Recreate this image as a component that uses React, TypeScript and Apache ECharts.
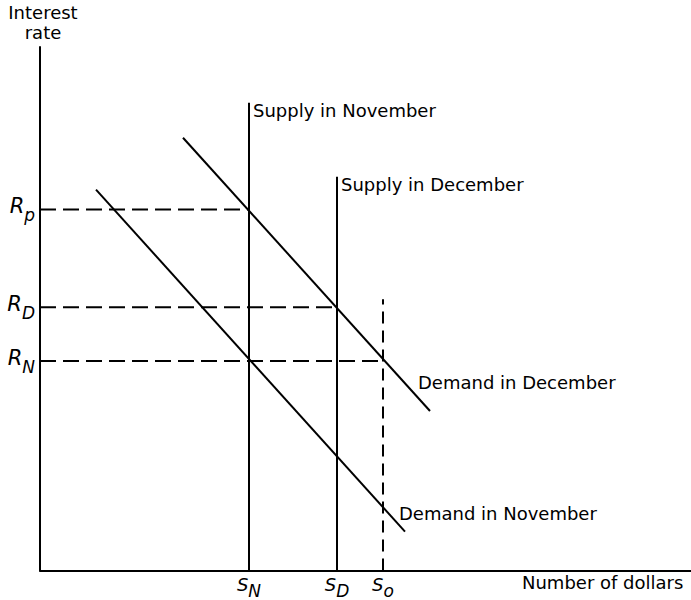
import React, { useEffect, useRef } from "react";
import * as echarts from "echarts";

// Quantities on the horizontal axis (S_N, S_D, S_o)
const supplyQty = [209, 297, 343];
const supplySubs = ["N", "D", "o"];
// Interest rates on the vertical axis (R_p, R_D, R_N)
const rates = [362, 264, 210];
const rateSubs = ["p", "D", "N"];
// Top of each supply line (November, December, dashed S_o)
const supplyTop = [469, 395, 272];
// Demand schedules: [quantity, rate] end points
const demandDec = [
  [143, 434],
  [390, 160],
];
const demandNov = [
  [56, 382],
  [365, 39],
];
const seriesNames = [
  "Supply in November",
  "Supply in December",
  "Demand in December",
  "Demand in November",
];
const axisTitles = ["Number of dollars", "Interest\nrate"];

const FONT = "DejaVu Sans";

export default function App() {
  const ref = useRef<HTMLDivElement>(null);
  useEffect(() => {
    document.body.style.margin = "0";
    const chart = echarts.init(ref.current!, null, { renderer: "svg" });
    const black = "#000";
    const lineW = 2;
    const dashStyle = { color: black, width: 2, type: [16, 7] as any };
    const vdash = { color: black, width: 2, type: [12, 7] as any };
    const labelStyle = {
      color: black,
      fontFamily: FONT,
      fontSize: 18,
    };
    const richX = {
      s: {
        fontFamily: FONT,
        fontStyle: "italic",
        fontSize: 18,
        lineHeight: 16,
        color: black,
        padding: [0, 0, 7, 0],
      },
      sub: {
        fontFamily: FONT,
        fontStyle: "italic",
        fontSize: 17,
        lineHeight: 16,
        color: black,
        padding: [7, 0, 0, 0],
      },
    };
    const richY = {
      s: {
        fontFamily: FONT,
        fontStyle: "italic",
        fontSize: 21,
        lineHeight: 21,
        color: black,
        padding: [0, 0, 7, 0],
      },
      sub: {
        fontFamily: FONT,
        fontStyle: "italic",
        fontSize: 17,
        lineHeight: 17,
        color: black,
        padding: [11, 0, 0, 0],
      },
    };
    const option: any = {
      animation: false,
      grid: { left: 40, top: 47, right: 0, bottom: 28 },
      xAxis: {
        type: "value",
        min: 0,
        max: 651,
        splitLine: { show: false },
        axisTick: { show: false },
        axisLine: { lineStyle: { color: black, width: 2 } },
        axisLabel: {
          customValues: supplyQty,
          margin: 9,
          formatter: (v: number) => {
            const i = supplyQty.indexOf(v);
            return i < 0 ? "" : `{s|S}{sub|${supplySubs[i]}}`;
          },
          rich: richX,
        },
      },
      yAxis: {
        type: "value",
        min: 0,
        max: 525,
        splitLine: { show: false },
        axisTick: { show: false },
        axisLine: { lineStyle: { color: black, width: 2 } },
        axisLabel: {
          customValues: rates,
          margin: 5,
          formatter: (v: number) => {
            const i = rates.indexOf(v);
            return i < 0 ? "" : `{s|R}{sub|${rateSubs[i]}}`;
          },
          rich: richY,
        },
      },
      graphic: [
        {
          type: "text",
          x: 43,
          y: 2,
          style: {
            text: axisTitles[1],
            align: "center",
            verticalAlign: "top",
            fill: black,
            fontFamily: FONT,
            fontSize: 18,
            lineHeight: 20,
          },
        },
        {
          type: "text",
          x: 522,
          y: 573,
          style: {
            text: axisTitles[0],
            align: "left",
            verticalAlign: "top",
            fill: black,
            fontFamily: FONT,
            fontSize: 18,
          },
        },
      ],
      series: [
        {
          name: seriesNames[0],
          type: "line",
          symbol: "none",
          lineStyle: { color: black, width: lineW },
          data: [
            [supplyQty[0], 0],
            [supplyQty[0], supplyTop[0]],
          ],
          endLabel: {
            show: true,
            formatter: seriesNames[0],
            offset: [-4, 8],
            ...labelStyle,
          },
        },
        {
          name: seriesNames[1],
          type: "line",
          symbol: "none",
          lineStyle: { color: black, width: lineW },
          data: [
            [supplyQty[1], 0],
            [supplyQty[1], supplyTop[1]],
          ],
          endLabel: {
            show: true,
            formatter: seriesNames[1],
            offset: [-4, 8],
            ...labelStyle,
          },
        },
        {
          name: "So",
          type: "line",
          symbol: "none",
          lineStyle: vdash,
          data: [
            [supplyQty[2], 0],
            [supplyQty[2], supplyTop[2]],
          ],
        },
        {
          name: seriesNames[2],
          type: "line",
          symbol: "none",
          lineStyle: { color: black, width: lineW },
          data: demandDec,
          endLabel: {
            show: true,
            formatter: seriesNames[2],
            offset: [-20, -28],
            ...labelStyle,
          },
        },
        {
          name: seriesNames[3],
          type: "line",
          symbol: "none",
          lineStyle: { color: black, width: lineW },
          data: demandNov,
          endLabel: {
            show: true,
            formatter: seriesNames[3],
            offset: [-14, -18],
            ...labelStyle,
          },
        },
        ...rates.map((r, i) => ({
          name: "rate" + i,
          type: "line",
          symbol: "none",
          lineStyle: dashStyle,
          data: [
            [0, r],
            [supplyQty[i], r],
          ],
        })),
      ],
    };
    chart.setOption(option);
    return () => chart.dispose();
  }, []);
  return <div ref={ref} style={{ width: 691, height: 600 }} />;
}
